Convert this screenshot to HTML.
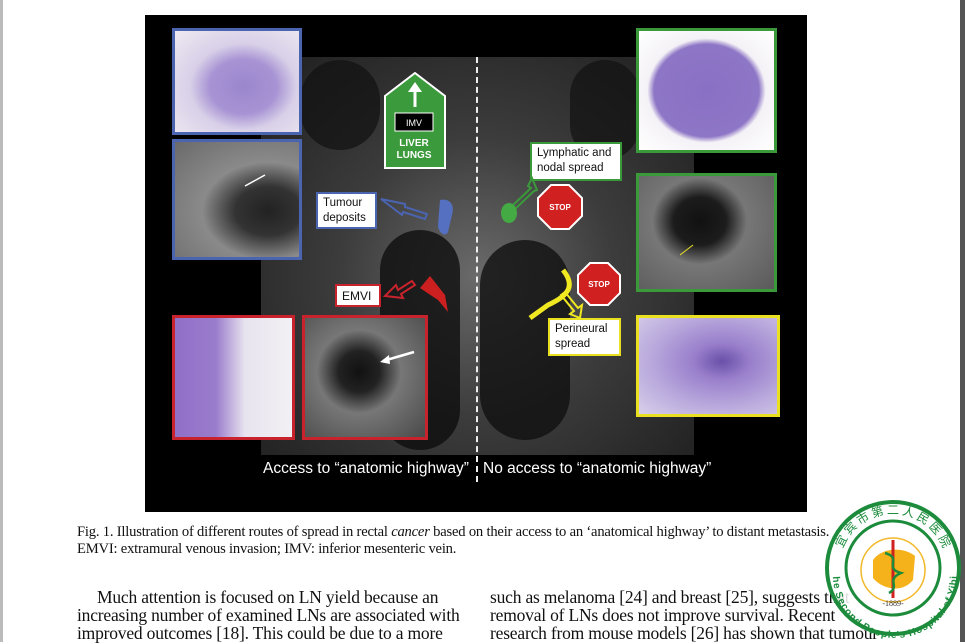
<!DOCTYPE html>
<html><head><meta charset="utf-8"><style>
body{margin:0;width:965px;height:642px;background:#fff;position:relative;overflow:hidden;font-family:"Liberation Serif",serif}
.a{position:absolute}
.lbl{position:absolute;background:#fff;font-family:"Liberation Sans",sans-serif;font-size:11.5px;line-height:15px;color:#111;padding:2px 5px;box-sizing:border-box}
.t{position:absolute;font-size:17.5px;color:#111;white-space:nowrap;letter-spacing:-0.2px}
.c{position:absolute;font-size:14.6px;color:#111;white-space:nowrap;letter-spacing:-0.2px}
</style></head><body>
<div class="a" style="left:0;top:0;width:3px;height:642px;background:#bbb"></div>
<div class="a" style="left:960px;top:0;width:5px;height:642px;background:#555"></div>
<div class="a" style="left:145px;top:15px;width:662px;height:497px;background:#000"></div>
<!-- MRI -->
<div class="a" style="left:261px;top:57px;width:433px;height:398px;background:radial-gradient(ellipse at 50% 55%,#6a6a6a 0%,#3c3c3c 45%,#1e1e1e 100%)"></div>
<div class="a" style="left:380px;top:230px;width:80px;height:220px;border-radius:40px;background:#0e0e0e;opacity:.8"></div>
<div class="a" style="left:480px;top:240px;width:90px;height:200px;border-radius:45px;background:#101010;opacity:.8"></div>
<div class="a" style="left:300px;top:60px;width:80px;height:90px;border-radius:40px;background:#111;opacity:.7"></div>
<div class="a" style="left:570px;top:60px;width:70px;height:100px;border-radius:35px;background:#111;opacity:.7"></div>
<div class="a" style="left:476px;top:57px;height:425px;border-left:2px dashed #eee"></div>
<!-- panels -->
<div class="a" style="left:172px;top:28px;width:130px;height:107px;box-sizing:border-box;border:3px solid #4a64b0;background:radial-gradient(ellipse at 55% 55%,#9a86cc 0%,#a894d4 35%,#d8d0e8 55%,#efeaf2 100%)"></div>
<div class="a" style="left:172px;top:139px;width:130px;height:121px;box-sizing:border-box;border:3px solid #4a64b0;background:radial-gradient(ellipse at 75% 60%,#222 0%,#333 25%,#8a8a8a 50%,#6a6a6a 100%)"></div>
<div class="a" style="left:172px;top:315px;width:123px;height:125px;box-sizing:border-box;border:3px solid #c8232c;background:linear-gradient(90deg,#9070c8 0%,#9a7ccc 35%,#e8e4ef 60%,#f2f0f4 100%)"></div>
<div class="a" style="left:302px;top:315px;width:126px;height:125px;box-sizing:border-box;border:3px solid #c8232c;background:radial-gradient(ellipse at 45% 45%,#111 0%,#222 22%,#777 45%,#4a4a4a 100%)"></div>
<div class="a" style="left:636px;top:28px;width:141px;height:125px;box-sizing:border-box;border:3px solid #3a9a3a;background:radial-gradient(ellipse at 50% 50%,#8a70c4 0%,#8e76c6 55%,#f4f2f6 62%,#fff 100%)"></div>
<div class="a" style="left:636px;top:173px;width:141px;height:119px;box-sizing:border-box;border:3px solid #3a9a3a;background:radial-gradient(ellipse at 45% 40%,#111 0%,#1c1c1c 25%,#777 45%,#5a5a5a 100%)"></div>
<div class="a" style="left:636px;top:315px;width:144px;height:102px;box-sizing:border-box;border:3px solid #e8e020;background:radial-gradient(ellipse at 60% 45%,#6a50a8 0%,#9a80cc 25%,#b8a8dc 60%,#d8d0ea 100%)"></div>
<!-- green sign -->
<svg class="a" style="left:383px;top:72px" width="64" height="97"><polygon points="32,1 62,24 62,96 2,96 2,24" fill="#3b9a3b" stroke="#fff" stroke-width="2"/><line x1="32" y1="35" x2="32" y2="14" stroke="#fff" stroke-width="3"/><polygon points="25,20 32,10 39,20" fill="#fff"/><rect x="12" y="41" width="38" height="18" fill="#000" stroke="#fff"/><text x="31" y="54" fill="#fff" font-family="Liberation Sans" font-size="9" text-anchor="middle">IMV</text><text x="31" y="74" fill="#fff" font-family="Liberation Sans" font-weight="bold" font-size="10" text-anchor="middle">LIVER</text><text x="31" y="86" fill="#fff" font-family="Liberation Sans" font-weight="bold" font-size="10" text-anchor="middle">LUNGS</text></svg>
<!-- labels -->
<div class="lbl" style="left:316px;top:192px;width:61px;height:37px;border:2px solid #4a64b0">Tumour deposits</div>
<div class="lbl" style="left:335px;top:284px;width:46px;height:23px;border:2px solid #c8232c;font-size:12px;padding-top:3px">EMVI</div>
<div class="lbl" style="left:530px;top:142px;width:92px;height:39px;border:2px solid #3a9a3a">Lymphatic and nodal spread</div>
<div class="lbl" style="left:548px;top:318px;width:73px;height:38px;border:2px solid #e8e020">Perineural spread</div>
<svg class="a" style="left:0;top:0" width="965" height="642">
<polygon points="381,199 405,204 405,207 427,214 425,219 403,212 402,215" fill="none" stroke="#4a64b0" stroke-width="2"/>
<path d="M440,200 C450,198 455,205 452,215 L448,232 C445,238 438,232 438,225 Z" fill="#5570c0"/>
<polygon points="385,296 396,285 398,290 412,281 415,285 401,294 403,298" fill="none" stroke="#c8232c" stroke-width="2"/>
<path d="M420,288 L430,276 L445,295 L448,312 L438,300 Z" fill="#cc2020"/>
<polygon points="532,178 537,190 534,191 514,210 511,207 531,188 528,186" fill="none" stroke="#3a9a3a" stroke-width="2"/>
<ellipse cx="509" cy="213" rx="8" ry="10" fill="#44aa44"/>
<path d="M563,270 C575,285 570,295 548,305 L530,318" stroke="#f0e820" stroke-width="5" fill="none"/>
<polygon points="565,292 578,308 582,305 580,318 570,314 574,311 561,295" fill="none" stroke="#f0e820" stroke-width="2"/>
<g transform="translate(560,207)"><polygon points="-9,-22 9,-22 22,-9 22,9 9,22 -9,22 -22,9 -22,-9" fill="#d02020" stroke="#fff" stroke-width="2"/><text y="3" fill="#fff" font-family="Liberation Sans" font-weight="bold" font-size="8" text-anchor="middle">STOP</text></g>
<g transform="translate(599,284)"><polygon points="-9,-21 9,-21 21,-9 21,9 9,21 -9,21 -21,9 -21,-9" fill="#d02020" stroke="#fff" stroke-width="2"/><text y="3" fill="#fff" font-family="Liberation Sans" font-weight="bold" font-size="8" text-anchor="middle">STOP</text></g>
<line x1="265" y1="175" x2="245" y2="186" stroke="#fff" stroke-width="1.5"/>
<line x1="414" y1="352" x2="383" y2="361" stroke="#fff" stroke-width="2.5"/>
<polygon points="380,362 389,355 390,364" fill="#fff"/>
<line x1="693" y1="245" x2="680" y2="255" stroke="#e8e020" stroke-width="1"/>
</svg>
<div class="a" style="left:263px;top:460px;color:#fff;font-family:'Liberation Sans',sans-serif;font-size:15.5px">Access to “anatomic highway”</div>
<div class="a" style="left:483px;top:460px;color:#fff;font-family:'Liberation Sans',sans-serif;font-size:15.5px">No access to “anatomic highway”</div>
<!-- caption -->
<div class="c" style="left:77px;top:524px">Fig. 1. Illustration of different routes of spread in rectal <i>cancer</i> based on their access to an ‘anatomical highway’ to distant metastasis.</div>
<div class="c" style="left:77px;top:541px">EMVI: extramural venous invasion; IMV: inferior mesenteric vein.</div>
<div class="t" style="left:97px;top:587px">Much attention is focused on LN yield because an</div>
<div class="t" style="left:77px;top:605px">increasing number of examined LNs are associated with</div>
<div class="t" style="left:77px;top:623px">improved outcomes [18]. This could be due to a more</div>
<div class="t" style="left:490px;top:587px">such as melanoma [24] and breast [25], suggests that</div>
<div class="t" style="left:490px;top:605px">removal of LNs does not improve survival. Recent</div>
<div class="t" style="left:490px;top:623px">research from mouse models [26] has shown that tumour</div>
<!-- logo -->
<svg class="a" style="left:823px;top:498px" width="142" height="144"><defs><path id="arc" d="M16,70 A54,54 0 0 1 124,70"/><path id="arc2" d="M18,78 A52,52 0 0 0 126,78"/></defs><circle cx="70" cy="70" r="66" fill="#fff" fill-opacity="0.85" stroke="#1c8c3c" stroke-width="4"/><circle cx="70" cy="70" r="47" fill="none" stroke="#1c8c3c" stroke-width="3"/><circle cx="70" cy="72" r="32" fill="#fff" stroke="#f2b82a" stroke-width="1.5"/><path d="M50,62 C58,50 80,48 92,58 L90,82 C80,95 60,92 50,80 Z" fill="#f5b21a"/><line x1="70" y1="42" x2="70" y2="100" stroke="#d02020" stroke-width="3"/><path d="M62,55 C80,60 60,70 78,75 C62,82 78,88 66,95" stroke="#1c8c3c" stroke-width="2.5" fill="none"/><text x="70" y="108" font-size="8" fill="#333" text-anchor="middle">-1889-</text><text font-family="Noto Sans CJK SC" font-size="12" fill="#1c8c3c"><textPath href="#arc" startOffset="50%" text-anchor="middle">宜 宾 市 第 二 人 民 医 院</textPath></text><text font-family="Liberation Sans" font-weight="bold" font-size="10" fill="#1c8c3c" dy="8"><textPath href="#arc2" startOffset="50%" text-anchor="middle">The Second People's Hospital of Yibin</textPath></text></svg>
</body></html>
